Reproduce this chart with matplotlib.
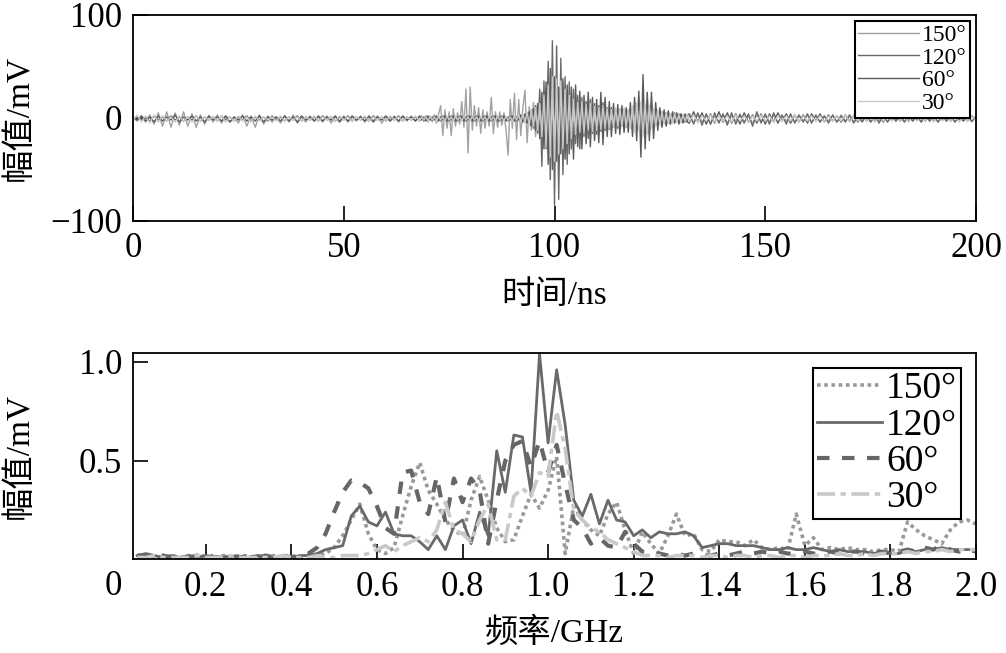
import numpy as np
import matplotlib
matplotlib.use("Agg")
import matplotlib.pyplot as plt
from matplotlib.transforms import blended_transform_factory

plt.rcParams['font.family'] = ['Liberation Serif', 'Noto Sans CJK SC']
plt.rcParams['axes.unicode_minus'] = True

labels = ['150°', '120°', '60°', '30°']

# ---- time domain (mV) ----
# quiet part 0-68 ns (1 ns step)
pre_150 = [0, -3, 2, -4, 3, -6, 5, -8, 6, -9, 5, -7, 6, -8, 4, -9, 3, -6, 2, -4,
           3, -5, 2, -4, 1, -5, 3, -8, 2, -9, 3, -6, 2, -4, 1, -5, 2, -4, 3, -5,
           1, -4, 2, -3, 1, -4, 2, -5, 1, -3, 2, -4, 1, -3, 2, -4, 1, -3, 2, -5,
           1, -3, 2, -4, 1, -3, 2, -3, 1]
pre_120 = [-1, 1, -2, 1, -3, 2, -2, 1, -3, 2, -2, 1, -3, 1, -2, 2, -3, 1, -2, 1,
           -3, 2, -2, 1, -3, 1, -2, 2, -3, 1, -2, 1, -3, 2, -2, 1, -3, 1, -2, 2,
           -3, 1, -2, 1, -3, 2, -2, 1, -3, 1, -2, 2, -3, 1, -2, 1, -3, 2, -2, 1,
           -3, 1, -2, 2, -3, 1, -2, 1, -3]
pre_60 = [1, -2, 2, -3, 1, -4, 2, -3, 1, -2, 3, -4, 1, -2, 2, -3, 1, -4, 2, -2,
          1, -3, 2, -4, 1, -2, 2, -3, 1, -3, 2, -4, 1, -2, 1, -3, 2, -3, 1, -4,
          2, -2, 1, -3, 2, -3, 1, -2, 2, -4, 1, -3, 2, -2, 1, -3, 2, -4, 1, -2,
          2, -3, 1, -3, 2, -2, 1, -3, 2]
pre_30 = [-2, 3, -4, 2, -5, 3, -4, 2, -3, 1, -4, 2, -3, 1, -4, 2, -3, 1, -2, 1,
          -3, 2, -4, 1, -3, 2, -3, 1, -4, 2, -3, 1, -2, 1, -3, 2, -3, 1, -2, 1,
          -3, 1, -2, 2, -3, 1, -2, 1, -3, 2, -2, 1, -3, 1, -2, 2, -3, 1, -2, 1,
          -3, 2, -2, 1, -3, 1, -2, 2, -3]

# burst part 68.5-131.5 ns (0.5 ns step)
burst_150 = [2, -3, 1, -4, 2, -3, 3, -5, 4,
             12, -17, 8, -10, 6, -17, 9, -8, 5,
             -6, 16, -9, 28, -34, 30, -12, 12, -8, 10, -15,
             8, -10, 6, -8, 20, -15, 6, -9, 6, -7,
             5, -12, -36, 18, -10, 24, -21, 18, -17, 10,
             27, -24, 11, -12, 15, -18, 12, -15, 10, -12,
             14, -20, 18, -16, 12, -14, 10, -12, 8, -10,
             12, -10, 9, -12, 10, -8, 11, -9, 8, -10,
             9, -8, 10, -11, 8, -9, 7, -10, 9, -8,
             7, -9, 8, -7, 9, -8, 6, -7, 8, -9,
             10, -12, 15, -14, 20, -18, 16, -12, 18, -15,
             14, -10, 9, -8, 7, -8, 6, -7, 5, -6,
             4, -5, 3, -5, 4, -4, 3, -4]
burst_120 = [1, -3, 2, -2, 1, -3, 2, -2, 1,
             -3, 2, -2, 1, -3, 2, -2, 1, -3,
             2, -2, 1, -3, 2, -2, 1, -3, 2, -2, 1,
             -3, 2, -2, 1, -3, 2, -2, 1, -3, 2,
             -2, 1, -3, 2, -2, 1, -3, 2, -2, 3,
             -4, 5, -6, 8, -10, 12, -15, 28, -47, 36,
             -30, 55, -60, 75, -85, 70, -79, 58, -55, 40,
             -45, 35, -30, 28, -25, 22, -30, 20, -18, 16,
             -20, 18, -15, 14, -16, 12, -13, 15, -12, 10,
             -11, 10, -9, 8, -10, 9, -8, 7, -9, 8,
             -7, 8, -9, 10, -8, 9, -10, 8, -7, 6,
             -6, 5, -7, 6, -5, 6, -4, 5, -5, 4,
             -4, 5, -3, 4, -4, 3, -4, 3]
burst_60 = [-2, 1, -3, 2, -2, 1, -2, 2, -3,
            1, -2, 2, -3, 1, -2, 2, -3, 1,
            -2, 2, -3, 1, -2, 2, -3, 1, -2, 2, -3,
            1, -2, 2, -3, 1, -2, 2, -3, 1, -2,
            2, -3, 1, -2, 2, -3, 1, -2, 3, -4,
            4, -5, 6, -8, 9, -12, 14, -20, 25, -30,
            35, -45, 48, -50, 40, -42, 30, -35, 38, -40,
            32, -35, 30, -40, 32, -28, 26, -30, 22, -25,
            25, -28, 20, -22, 18, -24, 25, -26, 20, -18,
            16, -18, 14, -15, 13, -16, 12, -14, 10, -14,
            15, -18, 20, -22, 26, -38, 42, -30, 25, -22,
            25, -20, 15, -12, 10, -9, 8, -8, 7, -6,
            6, -5, 5, -6, 4, -5, 4, -4]
burst_30 = [1, -2, 1, -3, 2, -2, 1, -3, 2,
            -2, 1, -3, 2, -2, 1, -3, 2, -2,
            1, -3, 2, -2, 1, -3, 2, -2, 1, -3, 2,
            -2, 1, -3, 2, -2, 1, -3, 2, -2, 1,
            -3, 2, -2, 1, -3, 2, -2, 3, -4, 4,
            -5, 6, -7, 8, -8, 10, -12, 14, -18, 22,
            -28, 32, -38, 40, -42, 38, -35, 36, -30, 28,
            -25, 22, -20, 18, -16, 15, -14, 16, -15, 13,
            -12, 14, -13, 11, -12, 10, -11, 12, -10, 9,
            -10, 8, -9, 10, -8, 9, -8, 10, -9, 8,
            -10, 12, -14, 15, -12, 16, -18, 14, -16, 12,
            -10, 9, -8, 8, -7, 6, -6, 5, -5, 4,
            -5, 4, -4, 3, -4, 3, -3, 3]

# quiet tail 132-200 ns (1 ns step)
post_150 = [3, -5, 4, -4, 3, -6, 2, -4, 3, -5, 2, -3, 4, -4, 2, -5, 3, -3, 2, -4,
            3, -5, 2, -3, 3, -4, 2, -3, 3, -4, 2, -4, 2, -3, 2, -4, 3, -3, 2, -4,
            2, -3, 2, -4, 2, -3, 3, -4, 2, -3, 2, -4, 2, -3, 3, -4, 2, -3, 2, -4,
            2, -3, 3, -4, 2, -3, 2, -4, 2]
post_120 = [4, -6, 5, -7, 4, -6, 5, -5, 4, -7, 5, -6, 3, -5, 4, -8, 6, -5, 4, -6,
            5, -5, 3, -6, 4, -5, 3, -4, 4, -5, 3, -4, 2, -5, 3, -4, 2, -4, 3, -5,
            2, -4, 3, -4, 2, -5, 3, -4, 2, -3, 3, -4, 2, -3, 2, -4, 3, -3, 2, -4,
            2, -3, 2, -4, 1, -3, 2, -3, 1]
post_60 = [-5, 6, -4, 5, -6, 4, -5, 6, -4, 5, -5, 4, -6, 5, -4, 3, -5, 4, -6, 4,
           -4, 5, -3, 4, -5, 3, -4, 3, -5, 4, -3, 4, -4, 3, -3, 2, -4, 3, -3, 2,
           -4, 3, -3, 2, -3, 2, -4, 3, -2, 2, -3, 2, -3, 3, -2, 2, -3, 2, -3, 2,
           -2, 3, -3, 2, -2, 1, -3, 2, -2]
post_30 = [-3, 3, -4, 2, -3, 3, -4, 2, -3, 2, -4, 3, -3, 2, -4, 2, -3, 3, -3, 2,
           -4, 2, -3, 2, -3, 3, -4, 2, -3, 2, -3, 2, -4, 2, -3, 2, -3, 3, -4, 2,
           -3, 2, -3, 2, -4, 2, -3, 2, -3, 3, -3, 2, -4, 2, -3, 2, -3, 2, -4, 3,
           -3, 2, -3, 2, -4, 2, -3, 2, -3]

# ---- spectrum (mV), 0.04-2.00 GHz every 0.02 GHz ----
spec_150 = [0.01, 0.02, 0.01, 0.01, 0.02, 0.01, 0.02, 0.01, 0.02, 0.01,
            0.02, 0.01, 0.02, 0.01, 0.02, 0.01, 0.02, 0.01, 0.02, 0.01,
            0.02, 0.02, 0.03, 0.06, 0.12, 0.20, 0.28, 0.13, 0.05, 0.03,
            0.06, 0.22, 0.37, 0.49, 0.35, 0.28, 0.20, 0.15, 0.12, 0.30,
            0.42, 0.30, 0.16, 0.09, 0.10, 0.22, 0.33, 0.26, 0.35, 0.52,
            0.03, 0.27, 0.20, 0.15, 0.12, 0.23, 0.29, 0.15, 0.03, 0.14,
            0.08, 0.03, 0.12, 0.23, 0.12, 0.13, 0.05, 0.04, 0.10, 0.09,
            0.09, 0.07, 0.10, 0.06, 0.05, 0.06, 0.05, 0.23, 0.07, 0.11,
            0.05, 0.06, 0.05, 0.06, 0.05, 0.05, 0.04, 0.05, 0.05, 0.04,
            0.19, 0.15, 0.12, 0.10, 0.08, 0.15, 0.19, 0.20, 0.18]
spec_120 = [0.02, 0.03, 0.02, 0.01, 0.02, 0.01, 0.02, 0.01, 0.02, 0.01,
            0.01, 0.02, 0.01, 0.01, 0.02, 0.01, 0.01, 0.02, 0.01, 0.02,
            0.02, 0.03, 0.05, 0.06, 0.07, 0.22, 0.27, 0.19, 0.17, 0.24,
            0.13, 0.12, 0.12, 0.09, 0.05, 0.12, 0.05, 0.17, 0.20, 0.08,
            0.24, 0.12, 0.55, 0.34, 0.63, 0.62, 0.34, 1.04, 0.59, 0.96,
            0.68, 0.30, 0.22, 0.33, 0.18, 0.30, 0.20, 0.19, 0.12, 0.15,
            0.11, 0.14, 0.13, 0.13, 0.14, 0.12, 0.06, 0.07, 0.08, 0.08,
            0.07, 0.07, 0.07, 0.06, 0.05, 0.05, 0.06, 0.05, 0.05, 0.06,
            0.05, 0.04, 0.05, 0.04, 0.04, 0.04, 0.03, 0.04, 0.03, 0.03,
            0.05, 0.04, 0.05, 0.05, 0.06, 0.05, 0.05, 0.05, 0.05]
spec_60 = [0.02, 0.02, 0.01, 0.02, 0.01, 0.02, 0.01, 0.02, 0.03, 0.01,
           0.01, 0.02, 0.01, 0.02, 0.01, 0.02, 0.01, 0.02, 0.01, 0.02,
           0.03, 0.06, 0.13, 0.24, 0.34, 0.40, 0.39, 0.36, 0.27, 0.16,
           0.13, 0.44, 0.45, 0.29, 0.23, 0.42, 0.19, 0.41, 0.29, 0.41,
           0.35, 0.08, 0.30, 0.50, 0.58, 0.60, 0.47, 0.60, 0.44, 0.58,
           0.38, 0.20, 0.16, 0.08, 0.11, 0.07, 0.06, 0.14, 0.08, 0.04,
           0.03, 0.03, 0.02, 0.03, 0.02, 0.03, 0.02, 0.02, 0.03, 0.02,
           0.03, 0.04, 0.03, 0.04, 0.03, 0.04, 0.03, 0.03, 0.04, 0.03,
           0.03, 0.04, 0.03, 0.04, 0.04, 0.03, 0.03, 0.04, 0.03, 0.04,
           0.05, 0.04, 0.06, 0.05, 0.07, 0.05, 0.04, 0.05, 0.04]
spec_30 = [0.01, 0.01, 0.02, 0.01, 0.01, 0.01, 0.01, 0.02, 0.01, 0.01,
           0.01, 0.02, 0.01, 0.01, 0.01, 0.01, 0.01, 0.02, 0.01, 0.01,
           0.01, 0.02, 0.01, 0.01, 0.02, 0.02, 0.02, 0.03, 0.05, 0.07,
           0.04, 0.07, 0.09, 0.11, 0.09, 0.15, 0.29, 0.15, 0.13, 0.09,
           0.20, 0.28, 0.10, 0.10, 0.32, 0.36, 0.32, 0.44, 0.42, 0.75,
           0.56, 0.25, 0.20, 0.16, 0.14, 0.10, 0.08, 0.06, 0.04, 0.02,
           0.02, 0.02, 0.01, 0.02, 0.02, 0.02, 0.01, 0.02, 0.02, 0.01,
           0.02, 0.02, 0.01, 0.02, 0.02, 0.01, 0.02, 0.02, 0.01, 0.02,
           0.02, 0.02, 0.03, 0.02, 0.02, 0.03, 0.02, 0.03, 0.03, 0.03,
           0.04, 0.03, 0.04, 0.04, 0.05, 0.04, 0.05, 0.05, 0.05]


def time_trace(pre, burst, post):
    t = np.concatenate([np.linspace(0, 68, len(pre)),
                        np.linspace(68.5, 131.5, len(burst)),
                        np.linspace(132, 200, len(post))])
    return t, np.concatenate([pre, burst, post])


traces = [time_trace(pre_150, burst_150, post_150),
          time_trace(pre_120, burst_120, post_120),
          time_trace(pre_60, burst_60, post_60),
          time_trace(pre_30, burst_30, post_30)]
spectra = [spec_150, spec_120, spec_60, spec_30]

top_colors = ['#a2a2a2', '#6a6a6a', '#5a5a5a', '#cacaca']
bot_colors = ['#999999', '#696969', '#666666', '#c9c9c9']
bot_styles = [(0, (1, 1)), '-', (0, (3, 3)), (0, (5, 1.5, 1.5, 1.5))]
bot_widths = [2.6, 2.0, 3.0, 2.6]

fig = plt.figure(figsize=(10.06, 6.53), dpi=100)
ax1 = fig.add_axes([0.1322, 0.6616, 0.8380, 0.3155])
ax2 = fig.add_axes([0.1322, 0.1432, 0.8380, 0.3162])

for (t, v), c, lab in zip(traces, top_colors, labels):
    ax1.plot(t, v, color=c, lw=1.0, label=lab)
ax1.set_xlim(0, 200)
ax1.set_ylim(-100, 100)
ax1.set_xticks([0, 50, 100, 150, 200])
ax1.set_yticks([-100, 0, 100])
ax1.set_yticklabels(['\u2212100', '0', '100'])
ax1.set_xlabel('时间/ns', fontsize=24)
ax1.set_ylabel('幅值/mV', fontsize=24)
ax1.xaxis.set_label_coords(0.5, -0.29)
ax1.yaxis.set_label_coords(-0.117, 0.5)
leg1 = ax1.legend(loc='upper right', fontsize=17, handlelength=2.6,
                  handletextpad=0.1, labelspacing=0.05, borderpad=0.15,
                  borderaxespad=0.25, fancybox=False, framealpha=1,
                  edgecolor='black')
leg1.get_frame().set_linewidth(1.5)

freq = np.arange(len(spec_150)) * 0.02 + 0.04
for s, c, ls, lw, lab in zip(spectra, bot_colors, bot_styles, bot_widths, labels):
    ax2.plot(freq, s, color=c, ls=ls, lw=lw, label=lab)
ax2.set_xlim(0.03, 2.0)
ax2.set_ylim(0, 1.045)
ax2.set_xticks([0.2, 0.4, 0.6, 0.8, 1.0, 1.2, 1.4, 1.6, 1.8, 2.0])
ax2.set_xticklabels(['0.2', '0.4', '0.6', '0.8', '1.0', '1.2', '1.4', '1.6', '1.8', '2.0'])
ax2.set_yticks([0.5, 1.0])
ax2.set_yticklabels(['0.5', '1.0'])
trans = blended_transform_factory(ax2.transData, ax2.transAxes)
ax2.text(-0.015, -0.05, '0', transform=trans, ha='center', va='top',
         fontsize=25, clip_on=False)
ax2.set_xlabel('频率/GHz', fontsize=24)
ax2.set_ylabel('幅值/mV', fontsize=24)
ax2.xaxis.set_label_coords(0.5, -0.28)
ax2.yaxis.set_label_coords(-0.117, 0.5)
leg2 = ax2.legend(loc='upper right', fontsize=27, handlelength=1.75,
                  handletextpad=0.1, labelspacing=0.05, borderpad=0.1,
                  borderaxespad=0.4, fancybox=False, framealpha=1,
                  edgecolor='black')
leg2.get_frame().set_linewidth(1.5)

for ax in (ax1, ax2):
    ax.tick_params(direction='in', length=11, width=1.2, labelsize=25, pad=8,
                   top=False, right=False)
    for sp in ax.spines.values():
        sp.set_linewidth(1.3)

fig.savefig('out.png', dpi=100)
